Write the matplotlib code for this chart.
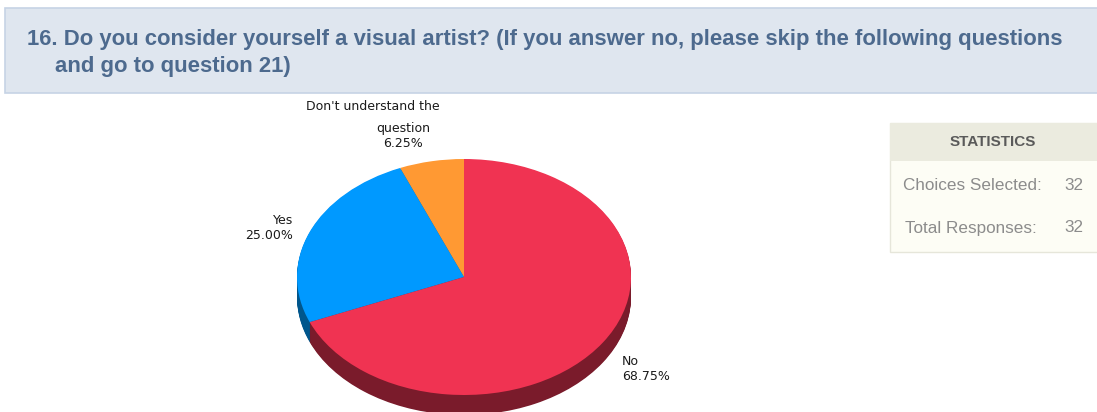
import matplotlib.pyplot as plt
from matplotlib.patches import Rectangle

# survey answers for question 16
answers = ["Don't understand the question", "Yes", "No"]
shares = [6.25, 25.00, 68.75]
choices_selected = 32
total_responses = 32

top_colors = ["#ff9933", "#0099ff", "#f03352"]
side_colors = ["#9c5a1c", "#00568c", "#7a1b2b"]

title_lines = ["16. Do you consider yourself a visual artist? (If you answer no, please skip the following questions",
               "and go to question 21)"]

W, H = 1097, 412
fig = plt.figure(figsize=(W / 100, H / 100), dpi=100)
fig.patch.set_facecolor("white")


def fx(x):
    return x / W


def fy(y):
    return 1 - y / H


# header bar
fig.add_artist(Rectangle((fx(4.5), fy(93)), fx(1100), 85 / H, transform=fig.transFigure,
                         facecolor="#dfe6ef", edgecolor="#c6d3e5", lw=1.2))
title_kw = dict(fontsize=15.9, fontweight="bold", color="#4d6a8e", family="Liberation Sans", va="baseline")
fig.text(fx(27), fy(45), title_lines[0], **title_kw)
fig.text(fx(55), fy(72), title_lines[1], **title_kw)

# statistics box
fig.add_artist(Rectangle((fx(890), fy(252)), fx(220), 129 / H, transform=fig.transFigure,
                         facecolor="#fdfdf5", edgecolor="#e6e6da", lw=1))
fig.add_artist(Rectangle((fx(890), fy(161)), fx(220), 38 / H, transform=fig.transFigure,
                         facecolor="#ebebdf", edgecolor="none"))
fig.text(fx(993), fy(142), "STATISTICS", fontsize=11, fontweight="bold", color="#5a5a5a",
         family="Liberation Sans", ha="center", va="center")
fig.text(fx(903), fy(185), "Choices Selected:", fontsize=12.3, color="#8c8c8c",
         family="Liberation Sans", va="center")
fig.text(fx(1083), fy(185), str(choices_selected), fontsize=12.3, color="#8c8c8c",
         family="Liberation Sans", va="center", ha="right")
fig.text(fx(905), fy(228), "Total Responses:", fontsize=12.3, color="#8c8c8c",
         family="Liberation Sans", va="center")
fig.text(fx(1083), fy(228), str(total_responses), fontsize=12.3, color="#8c8c8c",
         family="Liberation Sans", va="center", ha="right")

# pie drawn in a squashed axes so the disc reads as a tilted 3D pie
cx, cy, rx, ry, depth = 464, 277, 167, 118, 20
ax = fig.add_axes([0, 0, 1, 1])
ax.set_facecolor("none")
n_layers = 24
for k in range(n_layers, 0, -1):
    ax.pie(shares, colors=side_colors, startangle=90, center=(0, -k * depth / ry / n_layers),
           wedgeprops=dict(linewidth=0, antialiased=True))
ax.pie(shares, colors=top_colors, startangle=90, center=(0, 0),
       wedgeprops=dict(linewidth=0, antialiased=True))
ax.set_aspect("auto")
ax.set_xlim((0 - cx) / rx, (W - cx) / rx)
ax.set_ylim((cy - H) / ry, cy / ry)
ax.axis("off")

lbl = dict(fontsize=9, color="#1a1a1a", family="DejaVu Sans")
fig.text(fx(373), fy(107), "Don't understand the", ha="center", va="center", **lbl)
fig.text(fx(403), fy(136), f"question\n{shares[0]:.2f}%", ha="center", va="center",
         linespacing=1.25, **lbl)
fig.text(fx(293), fy(228), f"{answers[1]}\n{shares[1]:.2f}%", ha="right", va="center",
         multialignment="right", linespacing=1.25, **lbl)
fig.text(fx(622), fy(369), f"{answers[2]}\n{shares[2]:.2f}%", ha="left", va="center",
         linespacing=1.25, **lbl)

fig.savefig("out.png", dpi=100)
